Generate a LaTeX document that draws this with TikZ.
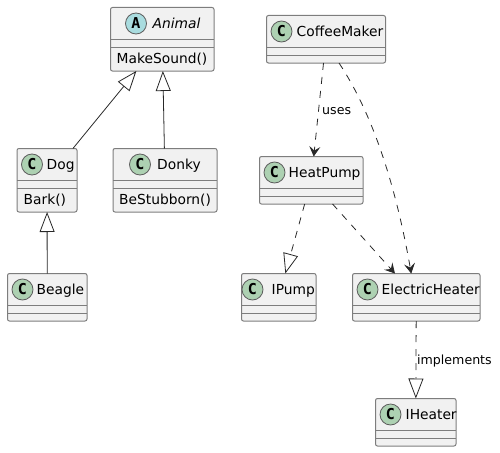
\documentclass[tikz,border=0pt]{standalone}
\usepackage{fontspec}
\setmainfont{DejaVu Sans}
\setmonofont{DejaVu Sans Mono}
\usepackage{xcolor}
\usetikzlibrary{arrows.meta,positioning,calc}
\definecolor{boxfill}{RGB}{241,241,241}
\definecolor{boxline}{RGB}{125,125,125}
\definecolor{inkline}{RGB}{40,40,40}
\definecolor{classicon}{RGB}{173,209,178}
\definecolor{abstracticon}{RGB}{169,220,223}
\tikzset{
  classbox/.style={draw=boxline,fill=boxfill,line width=1pt,rounded corners=2pt,inner sep=0pt,outer sep=0pt},
  sepline/.style={draw=boxline,line width=1pt},
  iconcircle/.style={circle,draw=inkline!75,line width=0.8pt,minimum size=21pt,inner sep=0pt,font=\fontsize{15}{15}\ttfamily\bfseries},
  umltext/.style={anchor=base west,inner sep=0pt,text=black,font=\fontsize{13.8}{15}\selectfont},
  edgelabel/.style={anchor=base west,inner sep=0pt,text=black,font=\fontsize{12.6}{14}\selectfont},
  inherit/.style={draw=inkline,line width=0.8pt,-{Triangle[length=20pt,width=15pt,fill=white]}},
  realize/.style={inherit,dash pattern=on 7pt off 7pt},
  depend/.style={draw=inkline,line width=0.8pt,dash pattern=on 7pt off 7pt,-{Stealth[length=10pt,width=11pt,inset=4pt]}},
}
% name, left, top, width, height
\newcommand{\classbox}[5]{
  \node[classbox,anchor=north west,minimum width=#4pt,minimum height=#5pt] (#1) at (#2,#3) {};
  \draw[sepline] ($(#1.north west)+(0,32)$) -- ($(#1.north east)+(0,32)$);
  \draw[sepline] ($(#1.north west)+(0,40)$) -- ($(#1.north east)+(0,40)$);
}
% name, letter, colour, icon offset, text offset, text
\newcommand{\classhead}[6]{
  \node[iconcircle,fill=#3] (#1icon) at ($(#1.north west)+(#4,16)$) {#2};
  \node[umltext] (#1name) at ($(#1.north west)+(#5,21)$) {#6};
}
\begin{document}
\begin{tikzpicture}[x=1pt,y=-1pt]
\useasboundingbox (0,0) rectangle (500,452);
% left tree
\classbox{animal}{110.5}{7.5}{103.5}{63.5}
\classhead{animal}{A}{abstracticon}{25.5}{42}{\itshape Animal}
\node[umltext] (animalsound) at ($(animal.north west)+(6,56)$) {MakeSound()};
\classbox{dog}{17}{148.5}{60}{63.5}
\classhead{dog}{C}{classicon}{15}{29.5}{Dog}
\node[umltext] (dogbark) at ($(dog.north west)+(6.5,56)$) {Bark()};
\classbox{donky}{113}{148.5}{104}{63.5}
\classhead{donky}{C}{classicon}{27}{44}{Donky}
\node[umltext] (donkystub) at ($(donky.north west)+(6,56)$) {BeStubborn()};
\classbox{beagle}{7.5}{273.5}{79.5}{47.5}
\classhead{beagle}{C}{classicon}{15}{29}{Beagle}
% right side
\classbox{coffeemaker}{266.5}{15.5}{119}{47.5}
\classhead{coffeemaker}{C}{classicon}{15}{30}{CoffeeMaker}
\classbox{heatpump}{259.5}{156.5}{103.5}{47.5}
\classhead{heatpump}{C}{classicon}{15}{29}{HeatPump}
\classbox{ipump}{241.5}{273.5}{74.5}{47.5}
\classhead{ipump}{C}{classicon}{11}{30}{IPump}
\classbox{heater}{352.5}{273.5}{127.5}{47.5}
\classhead{heater}{C}{classicon}{15}{29}{ElectricHeater}
\classbox{iheater}{375.5}{398.5}{80.5}{47.5}
\classhead{iheater}{C}{classicon}{15}{30}{IHeater}
% connectors
\draw[inherit] (dog) -- (animal);
\draw[inherit] (donky) -- (animal);
\draw[inherit] (beagle) -- (dog);
\draw[depend] (coffeemaker) -- (heatpump);
\draw[depend] ($(coffeemaker.south)+(13,0)$) .. controls (367,105) and (393,170) .. ($(heater.north)+(-5,0)$);
\draw[realize] (heatpump) -- (ipump);
\draw[depend] (heatpump) -- (heater);
\draw[realize] (heater) -- (iheater);
\node[edgelabel] (useslabel) at (322,114) {uses};
\node[edgelabel] (implabel) at (417,364) {implements};
\end{tikzpicture}
\end{document}
